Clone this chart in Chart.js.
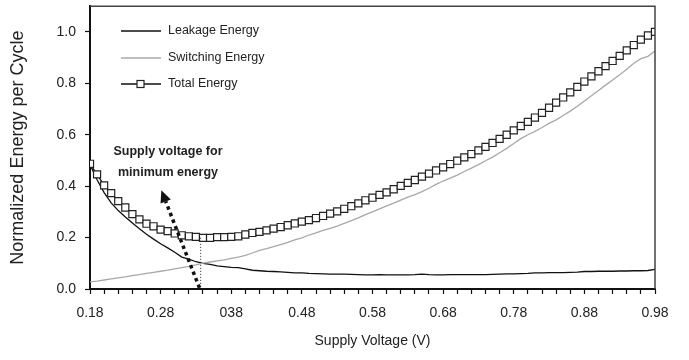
<!DOCTYPE html>
<html>
<head>
<meta charset="utf-8">
<script src="https://cdn.jsdelivr.net/npm/chart.js@4.4.1/dist/chart.umd.min.js"></script>
<style>
  html, body { margin: 0; padding: 0; background: #fff; }
  #energy-chart { display: block; }
</style>
</head>
<body>
<canvas id="energy-chart" width="689" height="360"></canvas>
<script>
// supply voltage sweep (V)
const voltage = [
  0.18, 0.19, 0.20, 0.21, 0.22, 0.23, 0.24, 0.25, 0.26, 0.27,
  0.28, 0.29, 0.30, 0.31, 0.32, 0.33, 0.34, 0.35, 0.36, 0.37,
  0.38, 0.39, 0.40, 0.41, 0.42, 0.43, 0.44, 0.45, 0.46, 0.47,
  0.48, 0.49, 0.50, 0.51, 0.52, 0.53, 0.54, 0.55, 0.56, 0.57,
  0.58, 0.59, 0.60, 0.61, 0.62, 0.63, 0.64, 0.65, 0.66, 0.67,
  0.68, 0.69, 0.70, 0.71, 0.72, 0.73, 0.74, 0.75, 0.76, 0.77,
  0.78, 0.79, 0.80, 0.81, 0.82, 0.83, 0.84, 0.85, 0.86, 0.87,
  0.88, 0.89, 0.90, 0.91, 0.92, 0.93, 0.94, 0.95, 0.96, 0.97,
  0.98
];

const leakageEnergy = [
  0.483, 0.425, 0.375, 0.335, 0.305, 0.280, 0.257, 0.234, 0.213, 0.194,
  0.176, 0.160, 0.143, 0.124, 0.116, 0.106, 0.100, 0.096, 0.090, 0.087,
  0.084, 0.083, 0.078, 0.073, 0.071, 0.069, 0.068, 0.067, 0.065, 0.063,
  0.063, 0.061, 0.060, 0.059, 0.058, 0.058, 0.058, 0.057, 0.056, 0.055,
  0.055, 0.056, 0.055, 0.055, 0.055, 0.055, 0.056, 0.058, 0.056, 0.055,
  0.055, 0.056, 0.056, 0.056, 0.056, 0.056, 0.056, 0.057, 0.058, 0.059,
  0.059, 0.060, 0.061, 0.063, 0.063, 0.064, 0.064, 0.064, 0.065, 0.066,
  0.068, 0.068, 0.069, 0.069, 0.069, 0.070, 0.070, 0.071, 0.071, 0.072,
  0.076
];

const switchingEnergy = [
  0.028, 0.031, 0.035, 0.039, 0.043, 0.047, 0.052, 0.056, 0.061, 0.065,
  0.069, 0.073, 0.078, 0.083, 0.088, 0.094, 0.101, 0.105, 0.109, 0.113,
  0.119, 0.124, 0.131, 0.140, 0.150, 0.157, 0.165, 0.173, 0.181, 0.191,
  0.199, 0.210, 0.218, 0.228, 0.236, 0.245, 0.255, 0.266, 0.277, 0.289,
  0.300, 0.312, 0.323, 0.334, 0.346, 0.357, 0.367, 0.379, 0.392, 0.407,
  0.420, 0.431, 0.443, 0.457, 0.470, 0.484, 0.499, 0.513, 0.530, 0.547,
  0.566, 0.585, 0.600, 0.613, 0.628, 0.644, 0.658, 0.675, 0.692, 0.711,
  0.731, 0.752, 0.772, 0.793, 0.813, 0.833, 0.855, 0.878, 0.896, 0.905,
  0.926
];

const totalEnergy = [
  0.487, 0.446, 0.403, 0.373, 0.342, 0.317, 0.291, 0.271, 0.254, 0.244,
  0.231, 0.225, 0.216, 0.209, 0.205, 0.203, 0.199, 0.199, 0.202, 0.202,
  0.203, 0.205, 0.212, 0.218, 0.222, 0.228, 0.235, 0.241, 0.248, 0.255,
  0.262, 0.268, 0.276, 0.284, 0.293, 0.302, 0.312, 0.322, 0.333, 0.345,
  0.355, 0.366, 0.376, 0.388, 0.401, 0.413, 0.424, 0.437, 0.449, 0.461,
  0.473, 0.486, 0.499, 0.512, 0.525, 0.539, 0.553, 0.568, 0.584, 0.600,
  0.617, 0.634, 0.650, 0.667, 0.685, 0.705, 0.725, 0.745, 0.765, 0.786,
  0.807, 0.827, 0.847, 0.867, 0.887, 0.907, 0.928, 0.949, 0.970, 0.986,
  1.000
];

const xTickLabels = ["0.18", "0.28", "038", "0.48", "0.58", "0.68", "0.78", "0.88", "0.98"];
const yTickValues = [0, 0.2, 0.4, 0.6, 0.8, 1.0];
const seriesNames = ["Leakage Energy", "Switching Energy", "Total Energy"];
const noteLines = ["Supply voltage for", "minimum energy"];

const FONT = "'Liberation Sans', Arial, sans-serif";

const toPoints = (ys) => voltage.map((v, i) => ({ x: v, y: ys[i] }));

// frame, legend, note and the dotted arrow
const extras = {
  id: "extras",
  afterDatasetsDraw(chart) {
    const { ctx, chartArea: a, scales: { x, y } } = chart;
    ctx.save();

    // top and right border of the plot
    ctx.strokeStyle = "#444";
    ctx.lineWidth = 1.5;
    ctx.beginPath();
    ctx.moveTo(a.left, a.top);
    ctx.lineTo(a.right, a.top);
    ctx.lineTo(a.right, a.bottom);
    ctx.stroke();

    // thin dotted drop line at the minimum
    ctx.strokeStyle = "#222";
    ctx.lineWidth = 1;
    ctx.setLineDash([1, 2]);
    ctx.beginPath();
    ctx.moveTo(x.getPixelForValue(0.336) + 0.5, y.getPixelForValue(0.199));
    ctx.lineTo(x.getPixelForValue(0.336) + 0.5, y.getPixelForValue(0));
    ctx.stroke();

    // thick dotted arrow
    const x0 = x.getPixelForValue(0.335), y0 = y.getPixelForValue(0.004);
    const x1 = x.getPixelForValue(0.281), y1 = y.getPixelForValue(0.384);
    const ang = Math.atan2(y1 - y0, x1 - x0);
    const headLen = 12, headW = 5.5;
    const bx = x1 - headLen * Math.cos(ang), by = y1 - headLen * Math.sin(ang);
    ctx.strokeStyle = "#111";
    ctx.lineWidth = 3.5;
    ctx.setLineDash([3.5, 3.5]);
    ctx.beginPath();
    ctx.moveTo(x0, y0);
    ctx.lineTo(bx, by);
    ctx.stroke();
    ctx.setLineDash([]);
    ctx.fillStyle = "#111";
    ctx.beginPath();
    ctx.moveTo(x1, y1);
    ctx.lineTo(bx + headW * Math.sin(ang), by - headW * Math.cos(ang));
    ctx.lineTo(bx - headW * Math.sin(ang), by + headW * Math.cos(ang));
    ctx.closePath();
    ctx.fill();

    // note text
    ctx.fillStyle = "#222";
    ctx.font = "bold 12.5px " + FONT;
    ctx.textAlign = "center";
    ctx.textBaseline = "middle";
    ctx.fillText(noteLines[0], 168, 152);
    ctx.fillText(noteLines[1], 168, 173);

    // legend
    const rows = [31, 58, 84];
    const colors = ["#111", "#a8a8a8", "#111"];
    ctx.font = "12.5px " + FONT;
    ctx.textAlign = "left";
    seriesNames.forEach((name, i) => {
      ctx.strokeStyle = colors[i];
      ctx.lineWidth = 1.3;
      ctx.beginPath();
      ctx.moveTo(121, rows[i]);
      ctx.lineTo(161, rows[i]);
      ctx.stroke();
      if (i === 2) {
        ctx.fillStyle = "#fff";
        ctx.fillRect(137, rows[i] - 3.5, 7, 7);
        ctx.strokeStyle = "#222";
        ctx.lineWidth = 1.2;
        ctx.strokeRect(137, rows[i] - 3.5, 7, 7);
      }
      ctx.fillStyle = "#222";
      ctx.fillText(name, 168, rows[i]);
    });

    ctx.restore();
  }
};

new Chart(document.getElementById("energy-chart"), {
  type: "line",
  data: {
    datasets: [
      {
        label: seriesNames[2],
        data: toPoints(totalEnergy),
        borderColor: "#111",
        borderWidth: 1.3,
        pointStyle: "rect",
        pointRadius: 5,
        pointBorderWidth: 1.2,
        pointBorderColor: "#222",
        pointBackgroundColor: "#fff",
        order: 0
      },
      {
        label: seriesNames[1],
        data: toPoints(switchingEnergy),
        borderColor: "#a8a8a8",
        borderWidth: 1.3,
        pointRadius: 0,
        order: 1
      },
      {
        label: seriesNames[0],
        data: toPoints(leakageEnergy),
        borderColor: "#111",
        borderWidth: 1.3,
        pointRadius: 0,
        order: 2
      }
    ]
  },
  options: {
    responsive: false,
    animation: false,
    devicePixelRatio: 1,
    layout: { padding: { top: 5, right: 34, left: 0, bottom: 0 } },
    plugins: { legend: { display: false }, tooltip: { enabled: false } },
    scales: {
      x: {
        type: "linear",
        min: 0.18,
        max: 0.98,
        afterBuildTicks: (s) => {
          s.ticks = [];
          for (let i = 0; i <= 40; i++) s.ticks.push({ value: 0.18 + i * 0.02 });
        },
        afterFit: (s) => {
          s.height = 71;
          s.paddingLeft = 0;
          s.paddingRight = 0;
        },
        ticks: {
          autoSkip: false,
          maxRotation: 0,
          padding: 11,
          color: "#222",
          font: { family: FONT, size: 14 },
          callback: (v, i) => (i % 5 === 0 ? xTickLabels[i / 5] : "")
        },
        grid: { drawOnChartArea: false, drawTicks: true, tickLength: 5, tickColor: "#111", tickWidth: 1.2 },
        border: { display: true, color: "#111", width: 2 },
        title: {
          display: true,
          text: "Supply Voltage (V)",
          color: "#222",
          font: { family: FONT, size: 14 },
          padding: { top: 10, bottom: 10 }
        }
      },
      y: {
        min: 0,
        max: 1.1,
        afterBuildTicks: (s) => { s.ticks = yTickValues.map((v) => ({ value: v })); },
        afterFit: (s) => {
          s.width = 90;
          s.paddingTop = 0;
          s.paddingBottom = 0;
        },
        ticks: {
          padding: 9,
          color: "#222",
          font: { family: FONT, size: 14 },
          callback: (v) => v.toFixed(1)
        },
        grid: { drawOnChartArea: false, drawTicks: true, tickLength: 5, tickColor: "#111", tickWidth: 1.2 },
        border: { display: true, color: "#111", width: 2 },
        title: {
          display: true,
          text: "Normalized Energy per Cycle",
          color: "#222",
          font: { family: FONT, size: 18 },
          padding: { top: 7, bottom: 0 }
        }
      }
    }
  },
  plugins: [extras]
});
</script>
</body>
</html>
